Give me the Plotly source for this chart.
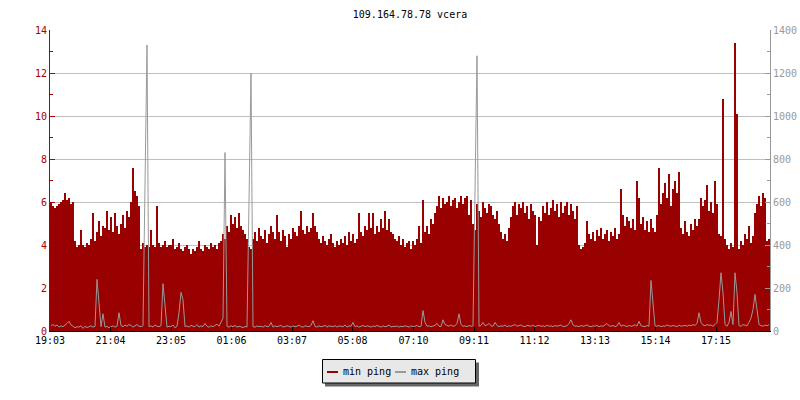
import plotly.graph_objects as go

# ---- data ----
title_text = "109.164.78.78 vcera"
tick_minutes = [0, 121, 242, 363, 484, 605, 727, 848, 969, 1090, 1211, 1332]
tick_labels = ["19:03", "21:04", "23:05", "01:06", "03:07", "05:08",
               "07:10", "09:11", "11:12", "13:13", "15:14", "17:15"]
sample_minutes = 4  # one sample every 4 minutes over 24 h

min_ping = [
    6.0, 5.8, 5.7, 5.8, 5.9, 6.0, 6.1, 6.4, 6.1, 6.2, 5.9, 6.0,
    4.2, 3.9, 4.0, 4.7, 4.0, 3.9, 4.1, 4.0,
    4.3, 5.5, 4.2, 4.6, 5.1, 4.4, 4.9,
    4.8, 5.6, 4.7, 5.3, 4.6, 5.5, 4.9, 4.5,
    5.0, 5.4, 4.8, 5.6, 5.3, 6.0,
    7.6, 6.5, 6.3, 5.8,
    3.8, 4.1, 3.9, 4.0,
    3.9, 4.7, 4.0, 3.9, 5.8, 4.1, 3.9, 4.0, 4.2, 3.9, 4.0,
    4.0, 4.3, 3.8, 3.9, 4.1, 3.8, 3.7, 3.9, 4.0, 3.8, 3.6, 3.8, 3.7,
    3.9, 4.2, 3.8, 3.7, 4.0, 3.9, 3.8, 4.1, 3.9, 4.0, 3.8, 4.1,
    4.2, 4.5, 4.3, 4.9, 4.6, 5.4,
    5.0, 5.3, 4.8, 5.5, 4.9, 4.7, 4.5, 4.3,
    3.9, 3.8,
    4.3, 4.6, 4.2, 4.8, 4.4, 4.3, 4.7, 4.1, 4.5, 4.9, 4.6, 4.3, 5.4, 4.6,
    4.2, 4.7, 4.4, 3.9, 4.5,
    4.3, 4.8, 4.6, 4.4, 4.9, 5.6, 4.7, 4.5, 4.9, 4.6, 4.8, 5.5,
    4.9, 4.6, 4.3, 4.1, 4.4, 4.2, 4.0, 4.3, 4.5, 4.1, 3.9, 4.2, 4.0,
    4.3, 4.1, 4.4, 4.0, 4.6, 4.2, 4.5, 4.1, 4.3,
    5.5, 4.6, 4.4, 4.9, 4.7, 5.5, 4.8, 5.5, 4.5, 4.9, 4.6, 5.2, 4.8,
    5.6, 4.7, 5.2, 4.6, 4.5,
    4.3, 4.2, 4.4, 4.0, 4.3, 3.9, 4.1, 4.2, 3.8, 4.2, 4.0, 4.3, 4.9,
    4.1, 6.1, 4.6, 4.9, 4.5, 5.2, 5.0,
    5.5, 5.8, 6.3, 5.7, 6.2, 5.9, 6.0, 6.3, 5.8, 6.1, 6.2, 5.7, 6.0,
    6.3, 5.9, 6.2, 6.3, 5.4, 6.1, 5.0,
    4.7, 5.9, 5.6, 5.3, 6.0, 5.7, 5.5, 5.9, 5.8, 5.4, 5.2, 5.6, 5.0,
    4.6, 4.3, 4.5, 4.2, 4.8,
    5.3, 5.8, 6.0, 5.4, 5.9, 5.7, 6.0, 5.5, 5.8, 5.2, 5.9, 5.6, 5.4, 4.0, 5.3,
    5.1, 5.8, 5.5, 6.0, 5.4, 5.7, 6.1, 5.6, 5.9, 5.3, 6.0, 5.5, 5.8, 6.0,
    5.4, 5.9, 5.6, 5.2, 5.8,
    4.0, 3.8, 3.9, 4.1,
    5.1, 4.5, 4.3, 4.6, 4.2, 4.7, 4.4, 4.8, 4.3, 4.5, 4.7, 4.2, 4.6, 4.4,
    4.8, 4.3, 4.5,
    6.6, 5.4, 4.9, 5.3, 5.1, 4.8, 5.2, 4.7,
    7.0, 6.2, 5.0, 5.3, 4.7, 5.1, 4.6, 5.2, 4.8, 4.6, 5.4,
    7.6, 5.9, 6.4, 6.9, 6.2, 7.3, 5.8, 6.6, 7.0, 6.4, 7.4,
    4.8, 4.5, 5.1, 4.6, 4.4, 5.0, 4.7, 5.2, 4.9,
    5.2, 6.2, 5.8, 6.1, 6.8, 5.6, 6.0, 5.5, 7.0, 5.9,
    4.5, 4.4,
    10.8, 4.3,
    4.0, 3.8, 4.1, 3.9,
    13.4, 10.1,
    3.8, 4.2, 4.0, 4.5, 4.3, 4.9, 4.1, 4.4,
    5.5, 5.9, 6.3, 5.8, 6.4, 6.2,
    4.2, 4.3,
]

max_ping = [
    25, 30, 22, 28, 18, 24, 20, 26, 35, 45, 28, 22, 15, 20, 18, 25, 12, 22, 16, 20,
    24, 18, 22, 240, 130, 20, 80, 18, 22, 15, 20, 24, 18, 22, 85, 25, 20, 28, 22, 30,
    26, 18, 24, 30, 22, 20, 25, 680, 1330, 20, 24, 18, 28, 22, 20, 25, 220, 120, 18, 22,
    20, 28, 15, 22, 85, 180, 145, 20, 24, 18, 26, 22, 20, 30, 18, 24, 20, 35, 22, 18,
    24, 20, 28, 32, 22, 40, 60, 830, 22, 18, 24, 20, 26, 18, 22, 20, 15, 22, 18, 600,
    1200, 20, 18, 24, 20, 22, 18, 25, 20, 22, 40, 18, 24, 20, 22, 26, 18, 20, 24, 22,
    18, 24, 20, 22, 28, 20, 18, 24, 22, 20, 26, 48, 22, 18, 24, 20, 22, 26, 18, 24,
    22, 20, 25, 18, 24, 22, 20, 28, 18, 24, 22, 40, 20, 24, 18, 22, 26, 20, 24, 22,
    18, 24, 20, 26, 22, 18, 24, 20, 22, 28, 18, 22, 20, 24, 18, 22, 20, 24, 22, 18,
    24, 20, 22, 26, 20, 22, 95, 40, 22, 24, 20, 22, 26, 35, 22, 20, 52, 30, 24, 22,
    28, 22, 24, 35, 80, 30, 22, 24, 20, 26, 22, 24, 650, 1280, 22, 26, 40, 24, 28, 35,
    24, 22, 40, 26, 20, 24, 22, 28, 20, 24, 22, 26, 30, 22, 24, 28, 22, 20, 26, 24,
    22, 28, 20, 24, 26, 22, 24, 20, 28, 22, 24, 20, 26, 22, 24, 28, 20, 22, 24, 35,
    52, 28, 22, 24, 20, 26, 22, 24, 28, 22, 20, 24, 22, 26, 20, 24, 22, 28, 35, 24,
    22, 26, 20, 24, 40, 22, 28, 24, 20, 26, 22, 24, 30, 22, 45, 24, 22, 20, 26, 22,
    235, 130, 24, 22, 26, 20, 24, 22, 28, 24, 22, 26, 24, 20, 28, 22, 24, 26, 22, 28,
    24, 30, 26, 35, 85, 40, 28, 24, 30, 26, 28, 22, 30, 40, 145, 271, 178, 30, 22, 40,
    91, 30, 271, 178, 25, 22, 30, 28, 24, 40, 60, 100, 170, 100, 30, 25, 22, 28, 24, 30,
]

legend_names = ["min ping", "max ping"]

# ---- styling ----
RED = "#990000"
AXRED = "#aa0000"
GRAY = "#999999"
FONT = "DejaVu Sans Mono"

W, H = 800, 400
L, R, T, B = 50, 30, 30, 69

n = len(min_ping)
x_bar = [i * sample_minutes + sample_minutes / 2 for i in range(n)]
x_line = [i * sample_minutes + sample_minutes / 2 for i in range(len(max_ping))]

fig = go.Figure()
fig.add_trace(go.Bar(
    x=x_bar, y=min_ping, width=[sample_minutes] * n,
    marker=dict(color=RED, line=dict(width=0)),
    name=legend_names[0], showlegend=False, yaxis="y", hoverinfo="skip",
))
fig.add_trace(go.Scatter(
    x=x_line, y=max_ping, mode="lines", line=dict(color=GRAY, width=1, shape="linear"),
    name=legend_names[1], showlegend=False, yaxis="y2", hoverinfo="skip",
))

def px_x(px):
    return (px - L) / (W - L - R)

def px_y(py):
    return (H - B - py) / (H - T - B)

shapes = [
    # legend shadow
    dict(type="rect", xref="paper", yref="paper", x0=px_x(325), x1=px_x(479),
         y0=px_y(386.5), y1=px_y(362.5), fillcolor="#666666", line=dict(width=0), layer="above"),
    # legend box
    dict(type="rect", xref="paper", yref="paper", x0=px_x(322.5), x1=px_x(475.5),
         y0=px_y(383), y1=px_y(359.5), fillcolor="#e8e8e8", line=dict(color="black", width=1), layer="above"),
    dict(type="line", xref="paper", yref="paper", x0=px_x(327), x1=px_x(338),
         y0=px_y(372), y1=px_y(372), line=dict(color=RED, width=2), layer="above"),
    dict(type="line", xref="paper", yref="paper", x0=px_x(395), x1=px_x(406),
         y0=px_y(372), y1=px_y(372), line=dict(color=GRAY, width=2), layer="above"),
]
annotations = [
    dict(text=legend_names[0], xref="paper", yref="paper", x=px_x(341), y=px_y(371),
         xanchor="left", yanchor="middle", showarrow=False,
         font=dict(family=FONT, size=10, color="black")),
    dict(text=legend_names[1], xref="paper", yref="paper", x=px_x(409), y=px_y(371),
         xanchor="left", yanchor="middle", showarrow=False,
         font=dict(family=FONT, size=10, color="black")),
]

fig.update_layout(
    width=W, height=H,
    margin=dict(l=L, r=R, t=T, b=B, pad=0, autoexpand=False),
    paper_bgcolor="white", plot_bgcolor="white",
    bargap=0, barmode="overlay",
    showlegend=False, hovermode=False,
    title=dict(text=title_text, x=0.5, xref="paper", y=1 - 14 / H, yref="container",
               xanchor="center", yanchor="middle",
               font=dict(family=FONT, size=10, color="black")),
    font=dict(family=FONT, size=10),
    xaxis=dict(range=[0, 1440], tickmode="array", tickvals=tick_minutes, ticktext=tick_labels,
               ticks="inside", ticklen=4, tickcolor="black", showgrid=False, automargin=False,
               showline=True, linecolor="black", linewidth=1, zeroline=False,
               tickfont=dict(family=FONT, size=10, color="black")),
    yaxis=dict(range=[0, 14], dtick=2, tick0=0, ticks="inside", ticklen=5, tickcolor=AXRED,
               showline=True, linecolor=AXRED, linewidth=1, zeroline=False, automargin=False,
               showgrid=True, gridcolor="#c0c0c0", gridwidth=1,
               minor=dict(dtick=1, ticks="inside", ticklen=3, tickcolor=AXRED, showgrid=False),
               tickfont=dict(family=FONT, size=10, color=AXRED)),
    yaxis2=dict(range=[0, 1400], dtick=200, tick0=0, overlaying="y", side="right",
                ticks="inside", ticklen=5, tickcolor=GRAY, automargin=False,
                showline=True, linecolor=GRAY, linewidth=1, zeroline=False, showgrid=False,
                minor=dict(dtick=100, ticks="inside", ticklen=3, tickcolor=GRAY, showgrid=False),
                tickfont=dict(family=FONT, size=10, color=GRAY)),
    shapes=shapes, annotations=annotations,
)

fig.write_html("out.html", config={"displayModeBar": False, "staticPlot": True},
               post_script="document.body.style.margin='0';document.body.style.overflow='hidden';")
